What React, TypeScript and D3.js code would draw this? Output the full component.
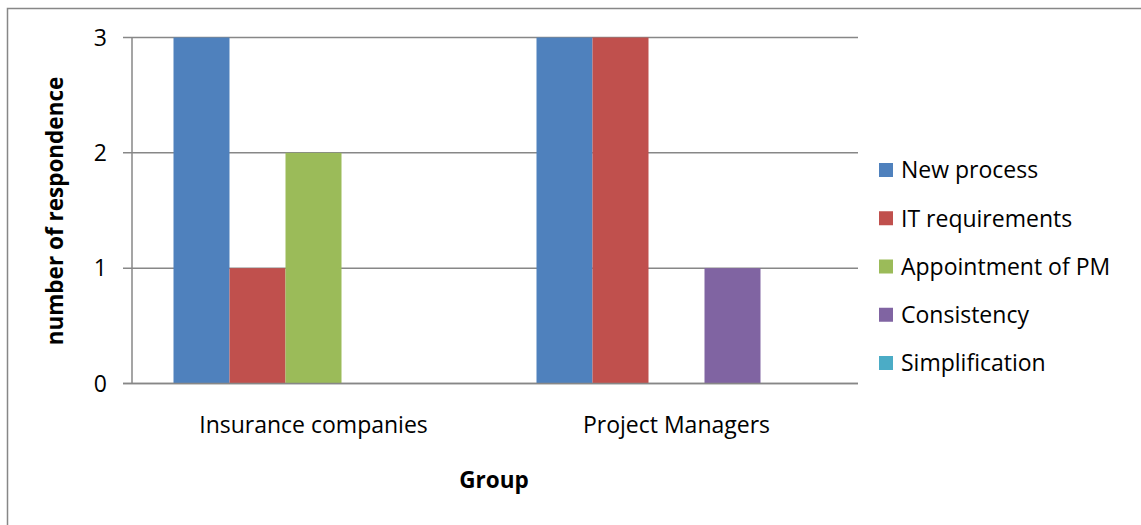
import React from "react";
import * as d3 from "d3";

const categories = ["Insurance companies", "Project Managers"];
const seriesNames = ["New process", "IT requirements", "Appointment of PM", "Consistency", "Simplification"];
const seriesColors = ["#4F81BD", "#C0504D", "#9BBB59", "#8064A2", "#4BACC6"];
const newProcess = [3, 3];
const itRequirements = [1, 3];
const appointmentOfPM = [2, 0];
const consistency = [0, 1];
const simplification = [0, 0];
const yTicks = [0, 1, 2, 3];

const seriesValues = [newProcess, itRequirements, appointmentOfPM, consistency, simplification];

const FONT = "'Open Sans', 'Liberation Sans', sans-serif";
const FS = 23;

export default function App() {
  const W = 1141, H = 525;
  const left = 132, right = 858, top = 37.5, bottom = 383.5;
  const x0 = d3.scaleBand().domain(categories).range([left, right]).paddingInner(0).paddingOuter(0);
  const inner = d3.scaleBand().domain(seriesNames).range([41.5, x0.bandwidth() - 41.5]).padding(0);
  const y = d3.scaleLinear().domain([0, 3]).range([bottom, top]);
  const legendY = d3.scalePoint().domain(seriesNames).range([170, 363]);

  return (
    <svg width={W} height={H} style={{ position: "absolute", left: 0, top: 0 }}>
      <rect x={0} y={0} width={W} height={H} fill="#fff" />
      <path d={`M7.5,${H} V8.5 H${W}`} fill="none" stroke="#878787" strokeWidth={1.5} />
      {yTicks.map((t) => (
        <g key={t}>
          <line x1={123} x2={right} y1={y(t)} y2={y(t)} stroke="#878787" strokeWidth={1.5} />
          <text x={107} y={y(t)} dy="0.36em" textAnchor="end" fontFamily={FONT} fontSize={FS} fill="#000">{t}</text>
        </g>
      ))}
      {categories.map((c, ci) => (
        <g key={c}>
          {seriesNames.map((s, si) => {
            const v = seriesValues[si][ci];
            if (!v) return null;
            return (
              <rect key={s} x={(x0(c) as number) + (inner(s) as number)} y={y(v)} width={inner.bandwidth()} height={y(0) - y(v)} fill={seriesColors[si]} />
            );
          })}
          <text x={(x0(c) as number) + x0.bandwidth() / 2} y={433} textAnchor="middle" fontFamily={FONT} fontSize={FS} fill="#000">{c}</text>
        </g>
      ))}
      <line x1={left} x2={left} y1={top} y2={bottom} stroke="#878787" strokeWidth={1.5} />
      <line x1={123} x2={right} y1={bottom} y2={bottom} stroke="#878787" strokeWidth={1.5} />
      <text x={494} y={488} textAnchor="middle" fontFamily={FONT} fontWeight="bold" fontSize={22.5} fill="#000">Group</text>
      <text transform={`translate(63,211) rotate(-90)`} textAnchor="middle" fontFamily={FONT} fontWeight="bold" fontSize={22.5} fill="#000">number of respondence</text>
      {seriesNames.map((s, si) => (
        <g key={s}>
          <rect x={879} y={(legendY(s) as number) - 7} width={14} height={14} fill={seriesColors[si]} />
          <text x={901} y={legendY(s) as number} dy="0.36em" fontFamily={FONT} fontSize={FS} fill="#000">{s}</text>
        </g>
      ))}
    </svg>
  );
}
